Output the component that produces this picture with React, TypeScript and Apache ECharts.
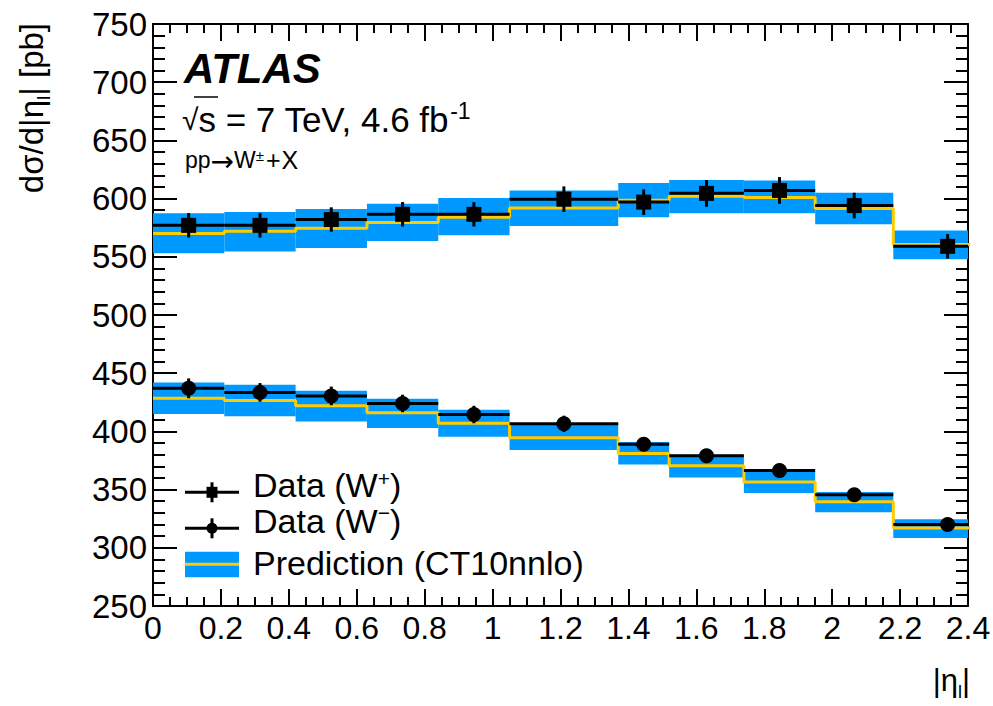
import React, { useEffect, useRef } from "react";
import * as echarts from "echarts";

// ---- data ----
// last bin is 2.18-2.5; the axis stops at 2.4
const binEdges = [0, 0.21, 0.42, 0.63, 0.84, 1.05, 1.37, 1.52, 1.74, 1.95, 2.18, 2.5];
const xTickLabels = ["0", "0.2", "0.4", "0.6", "0.8", "1", "1.2", "1.4", "1.6", "1.8", "2", "2.2", "2.4"];
const yTickLabels = ["250", "300", "350", "400", "450", "500", "550", "600", "650", "700", "750"];

const wPlusData = [577, 577, 582, 586.5, 586.5, 599.5, 597, 604.5, 607, 594, 559];
const wPlusErr = [10.5, 10.5, 10.5, 10.5, 10.5, 11, 11, 11.5, 11.5, 11, 10.5];
const wPlusPred = [570, 572, 574.5, 579.5, 584, 592, 598.5, 602, 601, 591.5, 560.5];
const wPlusPredLo = [553, 554.5, 557.5, 563.5, 568.5, 576.5, 584, 587.5, 587.5, 578, 548];
const wPlusPredHi = [587.5, 588.5, 591, 595.5, 600.5, 607, 613.5, 616, 615.5, 605, 572.5];

const wMinusData = [437, 433.5, 430.5, 424, 414.5, 406.5, 389, 379, 366.5, 345.5, 320];
const wMinusErr = [8.5, 8, 8, 7.5, 7.5, 7, 6, 5.5, 5, 4.5, 4];
const wMinusPred = [428.5, 426.5, 422, 416, 407, 394.5, 381, 370.5, 356.5, 339.5, 317];
const wMinusPredLo = [415, 413, 408.5, 403, 395.5, 384, 371.5, 360.5, 347, 330.5, 308.5];
const wMinusPredHi = [442, 440, 435, 428, 418.5, 407, 391, 380, 366, 348, 324.5];

const BLUE = "#0099ff";
const YELLOW = "#ffcc00";
const FAMILY = "'Liberation Sans', Arial, Helvetica, sans-serif";

let ctx: CanvasRenderingContext2D | null = null;
function measure(text: string, size: number, weight = "normal", style = "normal", family = "'Liberation Sans'") {
  if (!ctx) ctx = document.createElement("canvas").getContext("2d");
  if (!ctx) return text.length * size * 0.55;
  ctx.font = `${style} ${weight} ${size}px ${family}`;
  return ctx.measureText(text).width;
}

type Part = { text: string; size: number; dy?: number; weight?: string; style?: string; family?: string; gap?: number };

function run(x: number, y: number, parts: Part[]) {
  let cx = x;
  const els: any[] = [];
  for (const p of parts) {
    cx += p.gap || 0;
    els.push({
      type: "text",
      x: cx,
      y: y + (p.dy || 0),
      style: {
        text: p.text,
        fontSize: p.size,
        fontFamily: p.family || FAMILY,
        fontWeight: p.weight || "normal",
        fontStyle: p.style || "normal",
        fill: "#000",
        align: "left",
        textAlign: "left",
        verticalAlign: "middle",
        textVerticalAlign: "middle",
      },
    });
    cx += measure(p.text, p.size, p.weight, p.style, p.family || "'Liberation Sans'");
  }
  return { els, width: cx - x };
}

function buildBand(lo: number[], hi: number[]) {
  return lo.map((l, i) => [binEdges[i], binEdges[i + 1], l, hi[i]]);
}
function buildStep(pred: number[]) {
  const pts = pred.map((v, i) => [binEdges[i], v]);
  pts.push([binEdges[binEdges.length - 1], pred[pred.length - 1]]);
  return pts;
}
function buildErr(vals: number[], errs: number[]) {
  return vals.map((v, i) => [(binEdges[i] + binEdges[i + 1]) / 2, binEdges[i], binEdges[i + 1], v, errs[i]]);
}
function buildPts(vals: number[]) {
  return vals.map((v, i) => [(binEdges[i] + binEdges[i + 1]) / 2, v]);
}

const bandRender = (params: any, api: any) => {
  const p0 = api.coord([api.value(0), api.value(3)]);
  const p1 = api.coord([api.value(1), api.value(2)]);
  const right = params.coordSys.x + params.coordSys.width;
  const x1 = Math.min(p1[0], right);
  return {
    type: "rect",
    shape: { x: p0[0], y: p0[1], width: x1 - p0[0], height: p1[1] - p0[1] },
    style: { fill: BLUE },
  };
};
const errRender = (params: any, api: any) => {
  const xc = api.value(0), x0 = api.value(1), x1 = api.value(2), v = api.value(3), e = api.value(4);
  const right = params.coordSys.x + params.coordSys.width;
  const a = api.coord([x0, v]), b = api.coord([x1, v]);
  const t = api.coord([xc, v + e]), bt = api.coord([xc, v - e]);
  return {
    type: "group",
    children: [
      { type: "line", shape: { x1: a[0], y1: a[1], x2: Math.min(b[0], right), y2: b[1] }, style: { stroke: "#000", lineWidth: 3 } },
      { type: "line", shape: { x1: t[0], y1: t[1], x2: bt[0], y2: bt[1] }, style: { stroke: "#000", lineWidth: 3 } },
    ],
  };
};

function axisCommon(showLabel: boolean, major: number, minor: number, split: number, fontSize: number) {
  return {
    axisLine: { show: true, onZero: false, lineStyle: { color: "#000", width: 2 } },
    axisTick: { show: true, inside: true, length: major, lineStyle: { color: "#000", width: 2 } },
    minorTick: { show: true, splitNumber: split, length: minor, lineStyle: { color: "#000", width: 2 } },
    splitLine: { show: false },
    minorSplitLine: { show: false },
    axisLabel: { show: showLabel, color: "#000", fontSize, fontFamily: FAMILY, margin: 6 },
  };
}

export default function App() {
  const ref = useRef<HTMLDivElement>(null);
  useEffect(() => {
    if (!ref.current) return;
    const chart = echarts.init(ref.current, null, { renderer: "svg" });

    const graphics: any[] = [];
    // ATLAS
    graphics.push(...run(184, 68, [{ text: "ATLAS", size: 42, weight: "bold", style: "italic" }]).els);
    // sqrt(s) line
    const tev = run(182, 119.5, [{ text: "√", size: 30 }, { text: "s = 7 TeV, 4.6 fb", size: 35 }]);
    graphics.push(...tev.els);
    graphics.push(...run(182 + tev.width + 1, 111, [{ text: "-1", size: 23 }]).els);
    graphics.push({ type: "line", shape: { x1: 194, y1: 97, x2: 218, y2: 97 }, style: { stroke: "#000", lineWidth: 1.5 } });
    // pp -> W
    graphics.push(
      ...run(185, 160, [
        { text: "pp", size: 23 },
        { text: "→", size: 28, dy: 1, family: "'DejaVu Sans'" },
        { text: "W", size: 23 },
        { text: "±", size: 15, dy: -5 },
        { text: "+", size: 25, gap: 2 },
        { text: "X", size: 25, gap: 1 },
      ]).els
    );
    // x axis title
    const xt: Part[] = [
      { text: "|η", size: 31 },
      { text: "l", size: 18, dy: 12 },
      { text: "|", size: 31 },
    ];
    const xtw = xt.reduce((s, p) => s + measure(p.text, p.size), 0);
    graphics.push(...run(970 - xtw, 680, xt).els);
    // y axis title (rotated)
    const yt: Part[] = [
      { text: "dσ/d|η", size: 33 },
      { text: "l", size: 19, dy: 12 },
      { text: "| [pb]", size: 33 },
    ];
    const ytw = yt.reduce((s, p) => s + measure(p.text, p.size), 0);
    graphics.push({
      type: "group",
      x: 31,
      y: 23 + ytw,
      rotation: Math.PI / 2,
      children: run(0, 0, yt).els,
    });
    // legend
    const lx0 = 185, lx1 = 239, lxc = 212;
    const ly1 = 492.3, ly2 = 528.3;
    graphics.push(
      { type: "line", shape: { x1: lx0, y1: ly1, x2: lx1, y2: ly1 }, style: { stroke: "#000", lineWidth: 3 } },
      { type: "line", shape: { x1: lxc, y1: ly1 - 10, x2: lxc, y2: ly1 + 10 }, style: { stroke: "#000", lineWidth: 3 } },
      { type: "rect", shape: { x: lxc - 5.5, y: ly1 - 5.5, width: 11, height: 11 }, style: { fill: "#000" } },
      { type: "line", shape: { x1: lx0, y1: ly2, x2: lx1, y2: ly2 }, style: { stroke: "#000", lineWidth: 3 } },
      { type: "line", shape: { x1: lxc, y1: ly2 - 10, x2: lxc, y2: ly2 + 10 }, style: { stroke: "#000", lineWidth: 3 } },
      { type: "circle", shape: { cx: lxc, cy: ly2, r: 5.5 }, style: { fill: "#000" } },
      { type: "rect", shape: { x: lx0, y: 551.7, width: lx1 - lx0, height: 25.6 }, style: { fill: BLUE } },
      { type: "line", shape: { x1: lx0, y1: 564.3, x2: lx1, y2: 564.3 }, style: { stroke: YELLOW, lineWidth: 3 } }
    );
    graphics.push(
      ...run(253, 485, [
        { text: "Data (W", size: 34 },
        { text: "+", size: 21, dy: -7 },
        { text: ")", size: 34 },
      ]).els
    );
    graphics.push(
      ...run(253, 521, [
        { text: "Data (W", size: 34 },
        { text: "−", size: 21, dy: -9 },
        { text: ")", size: 34 },
      ]).els
    );
    graphics.push(...run(253, 562.5, [{ text: "Prediction (CT10nnlo)", size: 34 }]).els);

    const xAxisBase = { type: "value", min: 0, max: 2.4, interval: 0.2 };
    const yAxisBase = { type: "value", min: 250, max: 750, interval: 50 };

    chart.setOption({
      animation: false,
      backgroundColor: "#fff",
      grid: { left: 153, right: 25, top: 24, bottom: 100, containLabel: false, outerBoundsMode: "none" },
      xAxis: [
        {
          ...xAxisBase,
          position: "bottom",
          ...axisCommon(true, 17, 9, 4, 32),
          axisLabel: {
            show: true, color: "#000", fontSize: 32, fontFamily: FAMILY, margin: 6,
            formatter: (v: number) => xTickLabels[Math.round(v / 0.2)] ?? String(v),
          },
        },
        { ...xAxisBase, position: "top", ...axisCommon(false, 17, 9, 4, 32) },
      ],
      yAxis: [
        {
          ...yAxisBase,
          position: "left",
          ...axisCommon(true, 24, 12, 5, 33),
          axisLabel: {
            show: true, color: "#000", fontSize: 33, fontFamily: FAMILY, margin: 6,
            formatter: (v: number) => yTickLabels[Math.round((v - 250) / 50)] ?? String(v),
          },
        },
        { ...yAxisBase, position: "right", ...axisCommon(false, 24, 12, 5, 33) },
      ],
      series: [
        { type: "custom", name: "W+ band", renderItem: bandRender, data: buildBand(wPlusPredLo, wPlusPredHi), encode: { x: [0, 1], y: [2, 3] }, z: 1, silent: true, clip: true },
        { type: "custom", name: "W- band", renderItem: bandRender, data: buildBand(wMinusPredLo, wMinusPredHi), encode: { x: [0, 1], y: [2, 3] }, z: 1, silent: true, clip: true },
        { type: "line", name: "W+ pred", step: "end", data: buildStep(wPlusPred), symbol: "none", lineStyle: { color: YELLOW, width: 3 }, z: 2, silent: true, clip: true },
        { type: "line", name: "W- pred", step: "end", data: buildStep(wMinusPred), symbol: "none", lineStyle: { color: YELLOW, width: 3 }, z: 2, silent: true, clip: true },
        { type: "custom", name: "W+ err", renderItem: errRender, data: buildErr(wPlusData, wPlusErr), encode: { x: [0, 1, 2], y: [3] }, z: 3, silent: true, clip: true },
        { type: "custom", name: "W- err", renderItem: errRender, data: buildErr(wMinusData, wMinusErr), encode: { x: [0, 1, 2], y: [3] }, z: 3, silent: true, clip: true },
        { type: "scatter", name: "Data (W+)", data: buildPts(wPlusData), symbol: "rect", symbolSize: 15, itemStyle: { color: "#000", opacity: 1 }, z: 4, silent: true },
        { type: "scatter", name: "Data (W-)", data: buildPts(wMinusData), symbol: "circle", symbolSize: 15, itemStyle: { color: "#000", opacity: 1 }, z: 4, silent: true },
      ],
      graphic: { elements: graphics },
    });
    return () => chart.dispose();
  }, []);
  return <div ref={ref} style={{ position: "fixed", left: 0, top: 0, width: 993, height: 706, background: "#fff" }} />;
}
